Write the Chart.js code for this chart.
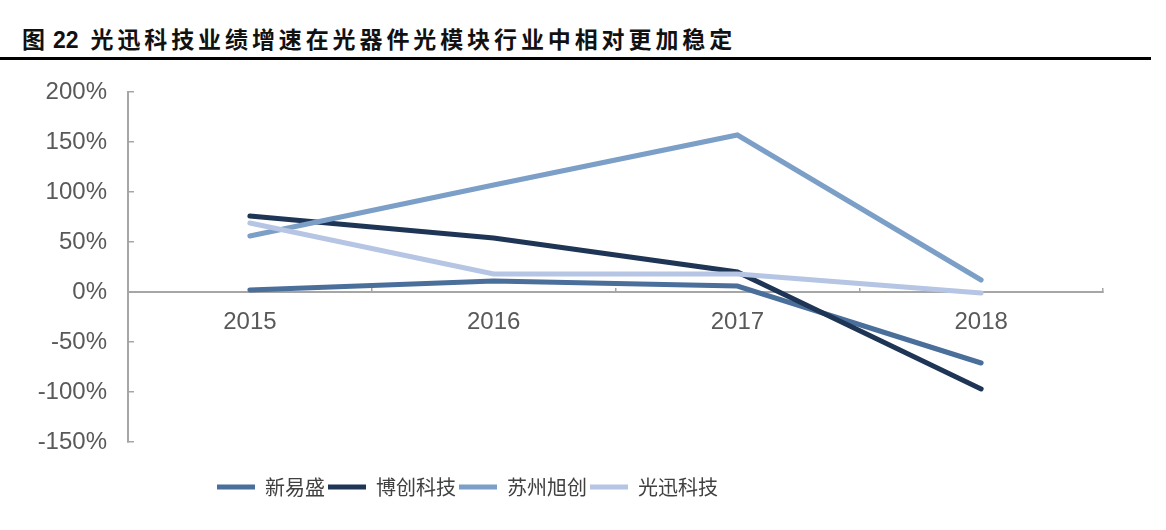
<!DOCTYPE html>
<html>
<head>
<meta charset="utf-8">
<script src="https://cdn.jsdelivr.net/npm/chart.js@4/dist/chart.umd.min.js"></script>
<style>
  html, body { margin: 0; padding: 0; background: #fff; }
  body { width: 1166px; height: 530px; position: relative; overflow: hidden; }
  #title {
    position: absolute; left: 22px; top: 23px;
    font-family: "Noto Sans CJK SC", sans-serif; font-weight: bold;
    font-size: 23px; letter-spacing: 3.9px; color: #111; line-height: 30px;
    white-space: nowrap;
  }
  #title .num { font-family: "Liberation Sans", Arial, sans-serif; font-weight: bold; letter-spacing: 0; margin: 0 12px 0 4px; }
  #rule { position: absolute; left: 0; top: 57px; width: 1151px; height: 3px; background: #000; }
  #wrap { position: absolute; left: 0; top: 0; width: 1166px; height: 530px; }
</style>
</head>
<body>
<div id="title">图<span class="num">22</span>光迅科技业绩增速在光器件光模块行业中相对更加稳定</div>
<div id="rule"></div>
<div id="wrap"><canvas id="growthChart"></canvas></div>
<script>
// growth rate by year, in percent
const years = ['2015', '2016', '2017', '2018'];
const xinYiSheng = [2, 11, 6, -71];
const boChuang = [76, 54, 20, -97];
const suzhouXuChuang = [56, 107, 157, 12];
const guangXun = [69, 18, 18, -1];

const yTicksMin = -150;
const yTicksMax = 200;
const yTicksStep = 50;

// push the legend to where the original puts it
const legendPlace = {
  id: 'legendPlace',
  afterLayout(chart) {
    const lg = chart.legend;
    const w = lg.right - lg.left;
    const h = lg.bottom - lg.top;
    lg.left = 214;
    lg.right = 214 + w;
    lg.top = 474;
    lg.bottom = 474 + h;
  }
};

function line(label, data, color, order) {
  return {
    label: label,
    data: data,
    borderColor: color,
    backgroundColor: color,
    borderWidth: 5,
    borderCapStyle: 'round',
    pointRadius: 0,
    pointHoverRadius: 0,
    fill: false,
    tension: 0,
    order: order
  };
}

const ctx = document.getElementById('growthChart').getContext('2d');
new Chart(ctx, {
  type: 'line',
  data: {
    labels: years,
    datasets: [
      line('新易盛', xinYiSheng, '#4a6f9b', 4),
      line('博创科技', boChuang, '#1f3555', 3),
      line('苏州旭创', suzhouXuChuang, '#7b9fc7', 2),
      line('光迅科技', guangXun, '#b5c5e3', 1)
    ]
  },
  options: {
    responsive: true,
    maintainAspectRatio: false,
    animation: false,
    layout: { padding: { top: 92, right: 63, bottom: 55, left: 0 } },
    plugins: {
      title: { display: false },
      tooltip: { enabled: false },
      legend: {
        position: 'bottom',
        align: 'start',
        labels: {
          usePointStyle: true,
          pointStyle: 'line',
          pointStyleWidth: 38,
          padding: 3,
          color: '#404040',
          font: { family: '"Noto Sans CJK SC", sans-serif', size: 20 },
          sort: (a, b) => a.datasetIndex - b.datasetIndex
        }
      }
    },
    scales: {
      x: {
        type: 'category',
        offset: true,
        position: { y: 0 },
        grid: {
          display: true, drawOnChartArea: false, drawTicks: true,
          tickLength: -5, offset: true, color: '#a6a6a6', lineWidth: 1.5
        },
        border: { display: true, color: '#a6a6a6', width: 2 },
        ticks: {
          color: '#595959', padding: 21,
          font: { family: '"Liberation Sans", Arial, sans-serif', size: 24 }
        }
      },
      y: {
        min: yTicksMin,
        max: yTicksMax,
        afterFit(scale) { scale.width = 128; },
        grid: {
          display: true, drawOnChartArea: false, drawTicks: true,
          tickLength: -6, color: '#a6a6a6', lineWidth: 1.5
        },
        border: { display: true, color: '#a6a6a6', width: 2 },
        ticks: {
          stepSize: yTicksStep,
          padding: 27,
          color: '#595959',
          font: { family: '"Liberation Sans", Arial, sans-serif', size: 24 },
          callback: (v) => v + '%'
        }
      }
    }
  },
  plugins: [legendPlace]
});
</script>
</body>
</html>
